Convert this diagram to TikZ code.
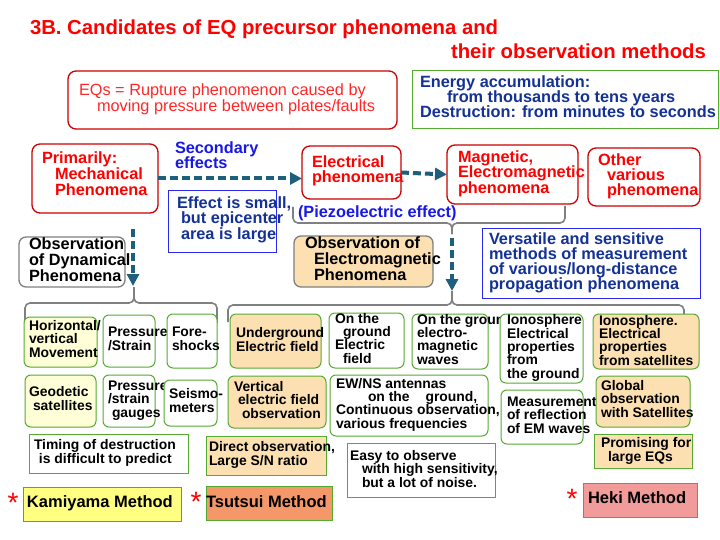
\documentclass[tikz,border=0pt]{standalone}
\usepackage{fontspec}
\setmainfont{Liberation Sans}
\usetikzlibrary{arrows.meta}
\definecolor{boxred}{RGB}{204,0,0}
\definecolor{txtred}{RGB}{255,0,0}
\definecolor{eqred}{RGB}{255,40,40}
\definecolor{brblue}{RGB}{25,25,230}
\definecolor{navy}{RGB}{20,50,150}
\definecolor{grn}{RGB}{85,170,50}
\definecolor{peach}{RGB}{252,224,178}
\definecolor{ltyel}{RGB}{255,255,215}
\definecolor{kyel}{RGB}{255,255,130}
\definecolor{tsor}{RGB}{245,152,105}
\definecolor{hpink}{RGB}{242,155,155}
\definecolor{arrc}{RGB}{30,95,125}
\definecolor{brgray}{RGB}{128,128,128}
\definecolor{bxblue}{RGB}{40,40,240}
\newcommand\tightls{\lineskiplimit -100pt\relax}
\newcommand\bx[6][]{\node[#1, anchor=north west, minimum width={#5-#3}, minimum height={#6-#4}, inner sep=0pt, outer sep=0pt] (#2) at (#3,#4) {};}
\tikzset{
 redbox/.style={draw=boxred, line width=1.3pt, rounded corners=8pt, fill=white},
 graybox/.style={draw=brgray, line width=1.3pt, rounded corners=7pt},
 grnbox/.style={draw=grn, line width=1pt, rounded corners=6pt},
 grnrect/.style={draw=grn, line width=1pt},
 bluerect/.style={draw=bxblue, line width=0.9pt, fill=white},
 txt/.style={inner sep=0pt, outer sep=0pt, align=left, anchor=base west},
 big/.style={txt, font=\fontsize{16.3}{15.6}\selectfont\bfseries\tightls},
 bigs/.style={txt, font=\fontsize{16.3}{15}\selectfont\bfseries\tightls},
 sm/.style={txt, font=\fontsize{13.9}{13.3}\selectfont\bfseries\tightls},
 meth/.style={txt, font=\fontsize{16.5}{18}\selectfont\bfseries},
 ttl/.style={txt, text=txtred, font=\fontsize{20.3}{24}\selectfont\bfseries},
 arr/.style={draw=arrc, line width=4pt, dash pattern=on 8pt off 4pt, -{Triangle[length=12pt,width=12pt]}},
 brace/.style={draw=brgray, line width=1.6pt, rounded corners=5pt},
 star/.style={inner sep=0pt, anchor=base, text=red, font=\fontsize{28}{28}\selectfont},
}
\begin{document}
\begin{tikzpicture}[x=1pt,y=-1pt]
\useasboundingbox (0,0) rectangle (720,540);
\fill[white] (0,0) rectangle (720,540);
% title
\node[ttl] (t1) at (30,35) {3B. Candidates of EQ precursor phenomena and};
\node[ttl] (t2) at (451,59) {their observation methods};
% EQs
\bx[redbox]{eqs}{68}{71}{397}{129}
\node[txt, text=eqred, font=\fontsize{16.3}{16}\selectfont\tightls] (eqst) at (79,112) {EQs = Rupture phenomenon caused by\\\hspace*{18pt}moving pressure between plates/faults};
% energy
\bx[grnrect]{ener}{412}{71}{718}{129}
\node[bigs, text=navy] (enert) at (420,118) {Energy accumulation:\\\hspace*{27pt}from thousands to tens years\\Destruction: from minutes to seconds};
% primarily
\bx[redbox]{prim}{32}{144}{158}{213}
\node[big, text=txtred] (primt) at (42,195.2) {Primarily:\\\hspace*{13pt}Mechanical\\\hspace*{13pt}Phenomena};
\node[bigs, text=brblue] (sec) at (175,169) {Secondary\\effects};
% electrical
\bx[redbox]{elec}{302}{146}{401}{199}
\node[bigs, text=txtred] (elect) at (312,183) {Electrical\\phenomena};
% magnetic
\bx[redbox]{mag}{447}{145}{578}{204}
\node[big, text=txtred] (magt) at (458,193.2) {Magnetic,\\Electromagnetic\\phenomena};
% other
\bx[redbox]{oth}{588}{148}{700}{206}
\node[bigs, text=txtred] (otht) at (598,196) {Other\\\hspace*{9pt}various\\\hspace*{9pt}phenomena};
% arrows between phenomena
\draw[arr] (prim.east) -- (prim.east -| elec.west);
\draw[arr] (elec.east) -- (mag.west);
% effect
\bx[bluerect]{eff}{168}{190}{276}{252}
\node[big, text=navy] (efft) at (177,239.2) {Effect is small,\\\hspace*{4pt}but epicenter\\\hspace*{4pt}area is large};
% piezo brace
\draw[brace] (293,207) -- (293,223) -- (452,223) -- (452,234);
\draw[brace] (565,206) -- (565,223) -- (452,223) -- (452,234);
\node[bigs, text=brblue] (piezo) at (298,218) {(Piezoelectric effect)};
% dynamical
\bx[graybox, fill=white]{dyn}{19}{237}{125}{287}
\node[big] (dynt) at (29,281) {Observation\\of Dynamical\\Phenomena};
\coordinate (a1s) at (133,229);
\coordinate (a1e) at (133,286);
\draw[arr] (a1s) -- (a1e);
% obs EM
\bx[graybox, fill=peach]{obsem}{294}{236}{433}{287}
\node[big] (obsemt) at (305,280) {Observation of\\\hspace*{9pt}Electromagnetic\\\hspace*{9pt}Phenomena};
\coordinate (a2s) at (452,238);
\coordinate (a2e) at (452,291);
\draw[arr] (a2s) -- (a2e);
% versatile
\bx[bluerect]{vers}{482}{228}{700}{298}
\node[bigs, text=navy] (verst) at (489,289) {Versatile and sensitive\\methods of measurement\\of various/long-distance\\propagation phenomena};
% bottom braces
\draw[brace] (25,322) -- (25,303) -- (134,303) -- (134,287);
\draw[brace] (217,323) -- (217,303) -- (134,303) -- (134,287);
\draw[brace] (228,322) -- (228,305) -- (452,305) -- (452,291);
\draw[brace] (684,316) -- (684,305) -- (452,305) -- (452,291);
% left group
\bx[grnbox, fill=ltyel]{hor}{24}{317}{97}{367}
\node[sm] (hort) at (29,357) {Horizontal/\\vertical\\Movement};
\bx[grnbox, fill=white]{pre}{103}{315}{155}{367}
\node[sm] (pret) at (108,350) {Pressure\\/Strain};
\bx[grnbox, fill=white]{fore}{167}{314}{217}{368}
\node[sm] (foret) at (172,350) {Fore-\\shocks};
\bx[grnbox, fill=ltyel]{geo}{25}{375}{96}{427}
\node[sm] (geot) at (29,410) {Geodetic\\\hspace*{4pt}satellites};
\bx[grnbox, fill=white]{gau}{103}{375}{155}{427}
\node[sm] (gaut) at (108,417) {Pressure\\/strain\\\hspace*{4pt}gauges};
\bx[grnbox, fill=white]{seis}{164}{380}{217}{426}
\node[sm] (seist) at (169,412) {Seismo-\\meters};
\bx[grnrect, fill=white]{tim}{29}{434}{188}{473}
\node[sm] (timt) at (34,463) {Timing of destruction\\\hspace*{5pt}is difficult to predict};
\bx[grnrect, fill=kyel]{kam}{23}{487}{181}{521}
\node[meth] (kamt) at (27,507) {Kamiyama Method};
\node[star] (s1) at (13,512) {*};
% middle group
\bx[grnbox, fill=peach]{und}{230}{314}{321}{368}
\node[sm] (undt) at (236,351) {Underground\\Electric field};
\bx[grnbox, fill=peach]{vert}{228}{376}{326}{428}
\node[sm] (vertt) at (234,418) {Vertical\\\hspace*{4pt}electric field\\\hspace*{8pt}observation};
\bx[grnrect, fill=peach]{dir}{206}{436}{326}{475}
\node[sm] (dirt) at (209,465) {Direct observation,\\Large S/N ratio};
\bx[grnrect, fill=tsor]{tsu}{206}{486}{332}{520}
\node[meth] (tsut) at (206,507) {Tsutsui Method};
\node[star] (s2) at (196,511) {*};
% right group
\bx[grnbox, fill=white]{ogef}{329}{313}{404}{368}
\node[sm] (ogeft) at (335,363) {On the\\\hspace*{8pt}ground\\Electric\\\hspace*{8pt}field};
\bx[grnbox, fill=white]{ogem}{412}{314}{488}{369}
\node[sm] (ogemt) at (417,364) {On the ground\\electro-\\magnetic\\waves};
\bx[grnbox, fill=white]{iong}{500}{314}{583}{383}
\node[sm] (iongt) at (507,378) {Ionosphere\\Electrical\\properties\\from\\the ground};
\bx[grnbox, fill=peach]{ions}{593}{314}{699}{369}
\node[sm] (ionst) at (599,365) {Ionosphere.\\Electrical\\properties\\from satellites};
\bx[grnbox, fill=white]{ew}{330}{375}{488}{436}
\node[sm] (ewt) at (336,428) {EW/NS antennas\\\hspace*{32pt}on the\hspace*{12pt} ground,\\Continuous observation,\\various frequencies};
\bx[grnbox, fill=white]{meas}{501}{390}{583}{444}
\node[sm] (meast) at (507,433) {Measurement\\of reflection\\of EM waves};
\bx[grnbox, fill=peach]{glob}{596}{376}{690}{427}
\node[sm] (globt) at (601,417) {Global\\observation\\with Satellites};
\bx[grnrect, fill=peach]{prom}{594}{434}{692}{468}
\node[sm] (promt) at (601,461) {Promising for\\\hspace*{7pt}large EQs};
\bx[grnrect, fill=white]{easy}{347}{443}{495}{497}
\node[sm] (easyt) at (350,487) {Easy to observe\\\hspace*{12pt}with high sensitivity,\\\hspace*{12pt}but a lot of noise.};
\bx[grnrect, fill=hpink]{heki}{583}{483}{697}{517}
\node[meth] (hekit) at (588,503) {Heki Method};
\node[star] (s3) at (572,508) {*};
\end{tikzpicture}
\end{document}
